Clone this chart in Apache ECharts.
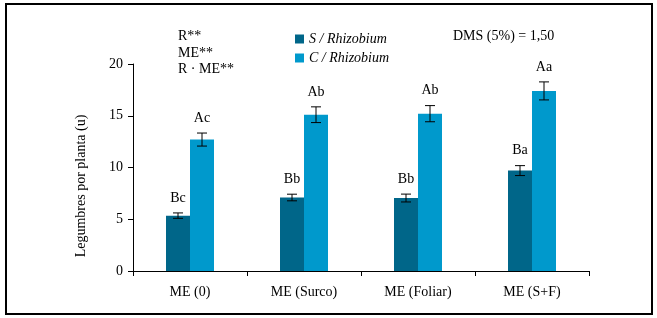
<!DOCTYPE html>
<html>
<head>
<meta charset="utf-8">
<script src="https://cdn.jsdelivr.net/npm/echarts@6/dist/echarts.min.js"></script>
<style>
  html, body { margin: 0; padding: 0; background: #fff; }
  #chart { width: 657px; height: 318px; }
</style>
</head>
<body>
<div id="chart"></div>
<script>
// dados
var categorias = ['ME (0)', 'ME (Surco)', 'ME (Foliar)', 'ME (S+F)'];
var semRhizobium = [5.35, 7.1, 7.05, 9.7];
var comRhizobium = [12.7, 15.1, 15.2, 17.4];
var semErro = [0.26, 0.32, 0.38, 0.48];
var comErro = [0.63, 0.76, 0.78, 0.87];
var semLetras = ['Bc', 'Bb', 'Bb', 'Ba'];
var comLetras = ['Ac', 'Ab', 'Ab', 'Aa'];
var yTicks = [0, 5, 10, 15, 20];

var fonte = "'Liberation Serif', 'Times New Roman', serif";
var corEscura = '#006689';
var corClara = '#0099cc';
var larguraBarra = 24;

var chart = echarts.init(document.getElementById('chart'));

// monta dados das barras de erro: [indice, valor, erro]
function montaErro(valores, erros) {
  return valores.map(function (v, i) {
    return [i, v, erros[i]];
  });
}

// barra de erro + letra da comparação de médias
function desenhaErro(letras, lado) {
  return function (params, api) {
    var idx = api.value(0);
    var v = api.value(1);
    var e = api.value(2);
    var base = api.coord([idx, v]);
    var x = base[0] + lado * larguraBarra / 2;
    var yTop = api.coord([idx, v + e])[1];
    var yBot = api.coord([idx, v - e])[1];
    var cap = 5;
    var st = { stroke: '#000', lineWidth: 1 };
    return {
      type: 'group',
      children: [
        { type: 'line', shape: { x1: x, y1: yTop, x2: x, y2: yBot }, style: st },
        { type: 'line', shape: { x1: x - cap, y1: yTop, x2: x + cap, y2: yTop }, style: st },
        { type: 'line', shape: { x1: x - cap, y1: yBot, x2: x + cap, y2: yBot }, style: st },
        {
          type: 'text',
          x: x, y: yTop - 15,
          style: {
            text: letras[params.dataIndex], fill: '#000', font: '14px ' + fonte,
            align: 'center', verticalAlign: 'middle'
          }
        }
      ]
    };
  };
}

var option = {
  animation: false,
  textStyle: { fontFamily: fonte },
  grid: { left: 133, right: 68, top: 64, bottom: 47 },
  legend: {
    orient: 'vertical',
    left: 290,
    top: 27,
    itemWidth: 9,
    itemHeight: 9,
    itemGap: 5,
    icon: 'rect',
    data: ['S / Rhizobium', 'C / Rhizobium'],
    textStyle: { fontFamily: fonte, fontSize: 14, fontStyle: 'italic', color: '#000' }
  },
  xAxis: {
    type: 'category',
    data: categorias,
    axisLine: { lineStyle: { color: '#000', width: 1 } },
    axisTick: { show: true, length: 5, lineStyle: { color: '#000' } },
    axisLabel: { color: '#000', fontSize: 14, fontFamily: fonte, margin: 14 }
  },
  yAxis: {
    type: 'value',
    min: yTicks[0],
    max: yTicks[yTicks.length - 1],
    interval: 5,
    axisLine: { show: true, lineStyle: { color: '#000', width: 1 } },
    axisTick: { show: true, length: 5, lineStyle: { color: '#000' } },
    axisLabel: { color: '#000', fontSize: 14, fontFamily: fonte, margin: 10 },
    splitLine: { show: false }
  },
  series: [
    {
      name: 'S / Rhizobium',
      type: 'bar',
      data: semRhizobium,
      barWidth: larguraBarra,
      barGap: '0%',
      itemStyle: { color: corEscura }
    },
    {
      name: 'C / Rhizobium',
      type: 'bar',
      data: comRhizobium,
      barWidth: larguraBarra,
      barGap: '0%',
      itemStyle: { color: corClara }
    },
    {
      type: 'custom',
      renderItem: desenhaErro(semLetras, -1),
      data: montaErro(semRhizobium, semErro),
      z: 10
    },
    {
      type: 'custom',
      renderItem: desenhaErro(comLetras, 1),
      data: montaErro(comRhizobium, comErro),
      z: 10
    }
  ],
  graphic: [
    {
      type: 'rect',
      shape: { x: 6, y: 4, width: 646, height: 310 },
      style: { fill: 'none', stroke: '#000', lineWidth: 2 }
    },
    { type: 'text', left: 178, top: 29, style: { text: 'R**', font: '14px ' + fonte, fill: '#000' } },
    { type: 'text', left: 178, top: 46, style: { text: 'ME**', font: '14px ' + fonte, fill: '#000' } },
    { type: 'text', left: 178, top: 62, style: { text: 'R · ME**', font: '14px ' + fonte, fill: '#000' } },
    { type: 'text', left: 453, top: 29, style: { text: 'DMS (5%) = 1,50', font: '14px ' + fonte, fill: '#000' } },
    {
      type: 'text',
      x: 81, y: 186,
      rotation: Math.PI / 2,
      style: {
        text: 'Legumbres por planta (u)', font: '14px ' + fonte, fill: '#000',
        align: 'center', verticalAlign: 'middle'
      }
    }
  ]
};

chart.setOption(option);
</script>
</body>
</html>
